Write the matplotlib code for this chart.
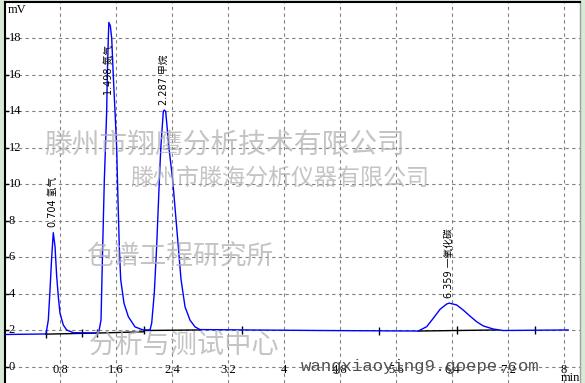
import matplotlib
matplotlib.use("Agg")
import matplotlib.pyplot as plt
import matplotlib.transforms as mtransforms

# chromatogram trace (min, mV)
trace_t = [0.0, 0.600, 0.633, 0.657, 0.681, 0.704, 0.729, 0.753, 0.776, 0.800,
           0.847, 0.895, 0.990, 1.314, 1.353, 1.386, 1.410, 1.433, 1.467, 1.476,
           1.490, 1.498, 1.519, 1.539, 1.561, 1.586, 1.610, 1.621, 1.647, 1.667,
           1.714, 1.776, 1.871, 1.986, 2.086, 2.110, 2.147, 2.181, 2.219, 2.240,
           2.276, 2.290, 2.310, 2.357, 2.411, 2.490, 2.529, 2.586, 2.657, 2.729,
           2.800, 4.500, 5.919, 6.039, 6.133, 6.229, 6.324, 6.360, 6.467, 6.561,
           6.657, 6.753, 6.847, 6.990, 7.129, 8.060]
trace_mv = [1.78, 1.81, 2.57, 4.20, 6.00, 7.36, 6.60, 4.95, 3.85, 2.95,
            2.30, 2.03, 1.88, 1.86, 1.90, 2.57, 6.60, 10.2, 14.0, 16.0,
            18.0, 18.88, 18.7, 18.0, 16.0, 14.0, 12.0, 10.2, 6.60, 4.80,
            3.50, 2.76, 2.20, 2.03, 2.03, 2.40, 4.05, 6.60, 10.2, 12.0,
            14.0, 14.08, 14.0, 12.0, 10.2, 6.60, 4.80, 3.30, 2.57, 2.20,
            2.05, 2.00, 1.97, 2.21, 2.67, 3.16, 3.45, 3.50, 3.40, 3.12,
            2.79, 2.48, 2.25, 2.08, 2.00, 2.03]

# integration baselines and event marks
base_t = [[0.600, 1.330], [1.330, 2.000], [2.000, 2.800], [5.919, 7.060]]
base_mv = [[1.80, 1.86], [1.86, 1.93], [2.00, 2.03], [1.97, 2.03]]
event_t = [0.60, 1.11, 1.33, 2.00, 3.40, 5.36, 6.47, 7.59]
event_mv = [1.80, 1.84, 1.86, 2.00, 2.01, 1.98, 2.00, 2.03]

# peaks
peak_rt = [0.704, 1.498, 2.287, 6.359]
peak_mv = [7.36, 18.88, 14.08, 3.50]
peak_name = ["氢气", "氮气", "甲烷", "一氧化碳"]

xticks = [0.8, 1.6, 2.4, 3.2, 4.0, 4.8, 5.6, 6.4, 7.2, 8.0]
xtick_labels = ["0.8", "1.6", "2.4", "3.2", "4", "4.8", "5.6", "6.4", "7.2", "8"]
yticks = [0, 2, 4, 6, 8, 10, 12, 14, 16, 18]

watermarks = ["滕州市翔鹰分析技术有限公司", "滕州市滕海分析仪器有限公司",
              "色谱工程研究所", "分析与测试中心"]
site = "wangxiaoying9.goepe.com"

W, H = 585, 383
fig = plt.figure(figsize=(W / 100, H / 100), dpi=100, facecolor="#d6ead6")
ax = fig.add_axes([5 / W, 0, 575 / W, 381 / H])
ax.set_facecolor("white")

ax.set_xlim(0.0143, 8.229)
ax.set_ylim(-0.877, 20.0)

ax.set_xticks(xticks)
ax.set_yticks(yticks)
ax.tick_params(axis="x", length=0, labelbottom=False)
ax.tick_params(axis="y", direction="in", length=3, width=1, labelleft=False)
ax.grid(True, color="#808080", linestyle=(0, (3, 3)), linewidth=0.8)

for side in ["left", "top"]:
    ax.spines[side].set_color("black")
    ax.spines[side].set_linewidth(1.5)
ax.spines["bottom"].set_visible(False)
ax.spines["right"].set_color("#a0a0a0")
ax.spines["right"].set_linewidth(1)

# tick labels drawn inside the plot
ytr = mtransforms.blended_transform_factory(ax.transAxes, ax.transData)
for v in yticks:
    ax.text(0.006, v, str(v), transform=ytr, ha="left", va="center",
            fontsize=9, family="Liberation Serif", zorder=6)
ax.text(0.004, 19.55, "mV", transform=ytr, ha="left", va="center",
        fontsize=9, family="Liberation Serif", zorder=6)
for x, lab in zip(xticks, xtick_labels):
    ax.text(x, -0.17, lab, ha="center", va="center", fontsize=9,
            family="Liberation Serif", zorder=6)
ax.text(8.09, -0.62, "min", ha="center", va="center", fontsize=9,
        family="Liberation Serif", zorder=6)

# trace
for bt, bm in zip(base_t, base_mv):
    ax.plot(bt, bm, color="black", linewidth=1, zorder=3)
ax.plot(event_t, event_mv, linestyle="none", marker="|", markersize=6,
        color="black", markeredgewidth=1, zorder=3)
ax.plot(trace_t, trace_mv, color="#0000ff", linewidth=1, zorder=4)

for rt, h, name in zip(peak_rt, peak_mv, peak_name):
    ax.text(rt, min(h + 0.3, 14.9), f"{rt:.3f} {name}", rotation=90,
            ha="center", va="bottom", fontsize=7,
            family=["DejaVu Sans", "Noto Sans CJK SC"], zorder=6)

# watermarks
wm_pos = [(225, 145, 20), (280, 178, 16.6), (181, 257, 19.3), (184, 345, 19.6)]
for text, (px, py, fs) in zip(watermarks, wm_pos):
    fig.text(px / W, 1 - py / H, text, ha="center", va="center", fontsize=fs,
             family="Noto Sans CJK SC", color="#b0b0b0", alpha=0.75, zorder=10)
fig.text(420 / W, 1 - 366 / H, site, ha="center", va="center", fontsize=12.5,
         family="Liberation Mono", color="#505050", zorder=10)

fig.savefig("out.png", dpi=100, facecolor=fig.get_facecolor())
